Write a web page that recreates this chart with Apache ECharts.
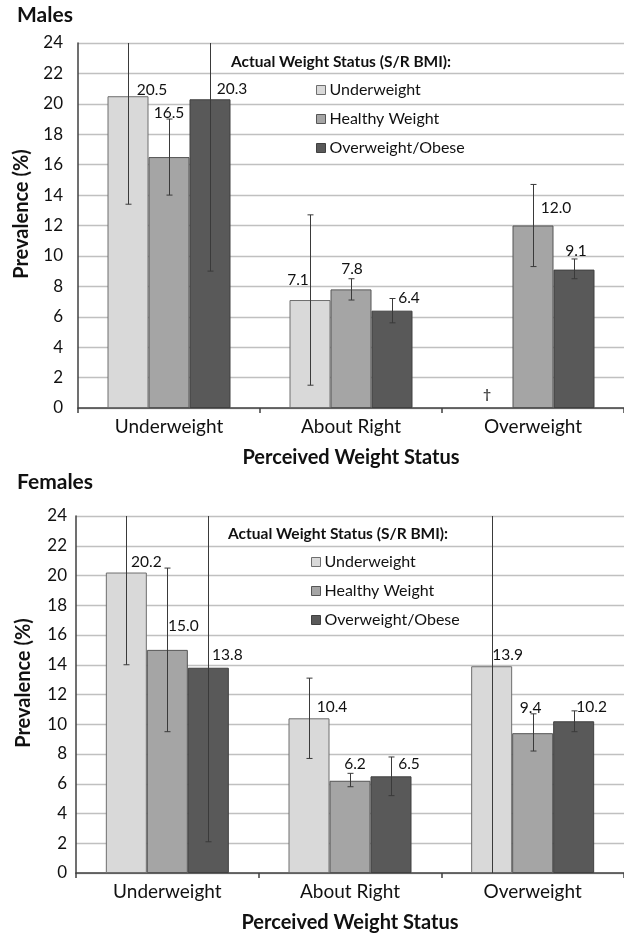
<!DOCTYPE html>
<html>
<head>
<meta charset="utf-8">
<script src="https://cdn.jsdelivr.net/npm/echarts@6/dist/echarts.min.js"></script>
<style>
  html, body { margin: 0; padding: 0; background: #fff; }
  #chart { width: 624px; height: 937px; }
</style>
</head>
<body>
<div id="chart"></div>
<script>
// ---------- data ----------
const categories = ['Underweight', 'About Right', 'Overweight'];
const groups = ['Underweight', 'Healthy Weight', 'Overweight/Obese'];
const yTicks = [0, 24, 2]; // min, max, interval

// Males (null = suppressed, shown as †)
const maleUnder   = [20.5, 7.1, null];
const maleHealthy = [16.5, 7.8, 12.0];
const maleOver    = [20.3, 6.4, 9.1];
// Males 95% CI [low, high]
const maleUnderCI   = [[13.4, 27.6], [1.5, 12.7], null];
const maleHealthyCI = [[14.0, 19.0], [7.1, 8.5], [9.3, 14.7]];
const maleOverCI    = [[9.0, 31.6], [5.6, 7.2], [8.5, 9.8]];

// Females
const femUnder   = [20.2, 10.4, 13.9];
const femHealthy = [15.0, 6.2, 9.4];
const femOver    = [13.8, 6.5, 10.2];
const femUnderCI   = [[14.0, 26.4], [7.7, 13.1], [-0.6, 28.4]];
const femHealthyCI = [[9.5, 20.5], [5.8, 6.7], [8.2, 10.7]];
const femOverCI    = [[2.1, 25.5], [5.2, 7.8], [9.5, 10.9]];

// ---------- label placement (styling) ----------
const maleUnderOff   = [[24, 2], [-12, -12], null];
const maleHealthyOff = [[0, -36], [1, -12], [23, -10]];
const maleOverOff    = [[22, -2], [17, -5], [2, -11]];
const femUnderOff    = [[20, -3], [23, -3], [16, -3]];
const femHealthyOff  = [[16, -16], [5, -9], [-2, -17]];
const femOverOff     = [[19, -5], [18, -4], [18, -6]];

const COLORS = ['#d9d9d9', '#a5a5a5', '#595959'];
const BORDERS = ['#6e6e6e', '#555555', '#404040'];
const BAR_W = 41;
const FONT = 'Lato';
const TXT = '#111111';

function barSeries(gi, g, vals, offs) {
  return {
    type: 'bar', name: groups[g], xAxisIndex: gi, yAxisIndex: gi,
    barWidth: BAR_W, barGap: '0%',
    itemStyle: { color: COLORS[g], borderColor: BORDERS[g], borderWidth: 1 },
    label: {
      show: true, position: 'top', distance: 0, fontFamily: FONT, fontSize: 15.5, color: TXT,
      formatter: p => (p.value == null ? '' : Number(p.value).toFixed(1))
    },
    data: vals.map((v, i) => v == null ? null : ({ value: v, label: { offset: offs[i] || [0, 0] } })),
    z: 2
  };
}

function errSeries(gi, g, ci) {
  return {
    type: 'custom', xAxisIndex: gi, yAxisIndex: gi, z: 6, silent: true,
    data: ci.map((c, i) => c ? [i, c[0], c[1]] : null).filter(Boolean),
    renderItem(params, api) {
      const cs = params.coordSys;
      const x = api.value(0);
      const lo = api.coord([x, api.value(1)]);
      const hi = api.coord([x, api.value(2)]);
      const cx = Math.round(lo[0] + (g - 1) * BAR_W) + 0.5;
      const top = cs.y, bot = cs.y + cs.height;
      const yHi = Math.max(hi[1], top), yLo = Math.min(lo[1], bot);
      const st = { stroke: '#3a3a3a', lineWidth: 1 };
      const ch = [{ type: 'line', shape: { x1: cx, y1: yLo, x2: cx, y2: yHi }, style: st }];
      if (hi[1] >= top) ch.push({ type: 'line', shape: { x1: cx - 3, y1: yHi, x2: cx + 3, y2: yHi }, style: st });
      if (lo[1] <= bot) ch.push({ type: 'line', shape: { x1: cx - 3, y1: yLo, x2: cx + 3, y2: yLo }, style: st });
      return { type: 'group', children: ch };
    }
  };
}

function daggerSeries(gi, g, vals) {
  return {
    type: 'scatter', xAxisIndex: gi, yAxisIndex: gi, symbolSize: 0, silent: true,
    data: vals.map((v, i) => v == null ? [i, 0] : null).filter(Boolean),
    label: { show: true, position: 'top', distance: 0, formatter: '\u2020', fontFamily: FONT,
             fontSize: 14, fontWeight: 'bold', color: TXT, offset: [(g - 1) * BAR_W - 5, -7] },
    z: 7
  };
}

function xAxis(gi) {
  return {
    type: 'category', gridIndex: gi, data: categories,
    name: 'Perceived Weight Status', nameLocation: 'middle', nameGap: 40,
    nameTextStyle: { fontFamily: FONT, fontSize: 20, fontWeight: 'bold', color: TXT },
    axisLine: { lineStyle: { color: '#404040', width: 1.5 } },
    axisTick: { show: true, length: 5, lineStyle: { color: '#404040', width: 1.5 } },
    axisLabel: { fontFamily: FONT, fontSize: 19, color: TXT, margin: 9 },
    splitLine: { show: false }
  };
}
function yAxis(gi, margin, nameGap) {
  return {
    type: 'value', gridIndex: gi, min: yTicks[0], max: yTicks[1], interval: yTicks[2],
    name: 'Prevalence (%)', nameLocation: 'middle', nameGap: nameGap,
    nameTextStyle: { fontFamily: FONT, fontSize: 20, fontWeight: 'bold', color: TXT, padding: [0, 0, 0, 23] },
    axisLine: { show: true, lineStyle: { color: '#404040', width: 1.5 } },
    axisTick: { show: false },
    axisLabel: { fontFamily: FONT, fontSize: 17, color: TXT, margin: margin },
    splitLine: { show: true, lineStyle: { color: '#c0c0c0', width: 1.3 } }
  };
}
function legend(left, top) {
  return {
    orient: 'vertical', left: left, top: top, padding: 0, data: groups,
    icon: 'rect', itemWidth: 9, itemHeight: 9, itemGap: 13,
    itemStyle: { borderWidth: 1 },
    textStyle: { fontFamily: FONT, fontSize: 16, lineHeight: 16, color: TXT, padding: [0, 0, 0, -1] },
    selectedMode: false
  };
}
const titleStyle = { fontFamily: FONT, fontWeight: 'bold', color: TXT };

const chart = echarts.init(document.getElementById('chart'), null, { renderer: 'canvas' });
chart.setOption({
  animation: false,
  backgroundColor: '#ffffff',
  textStyle: { fontFamily: FONT },
  title: [
    { text: 'Males', left: 17, top: 5, padding: 0, textStyle: Object.assign({ fontSize: 21 }, titleStyle) },
    { text: 'Actual Weight Status (S/R BMI):', left: 231, top: 54, padding: 0, textStyle: Object.assign({ fontSize: 15.5 }, titleStyle) },
    { text: 'Females', left: 17, top: 472, padding: 0, textStyle: Object.assign({ fontSize: 21 }, titleStyle) },
    { text: 'Actual Weight Status (S/R BMI):', left: 228, top: 526, padding: 0, textStyle: Object.assign({ fontSize: 15.5 }, titleStyle) }
  ],
  legend: [legend(316, 82), legend(311, 554)],
  grid: [
    { left: 78, top: 43, width: 552, height: 365 },
    { left: 76, top: 516, width: 553, height: 357 }
  ],
  xAxis: [xAxis(0), xAxis(1)],
  yAxis: [yAxis(0, 15, 46), yAxis(1, 9, 42)],
  series: [
    barSeries(0, 0, maleUnder, maleUnderOff),
    barSeries(0, 1, maleHealthy, maleHealthyOff),
    barSeries(0, 2, maleOver, maleOverOff),
    barSeries(1, 0, femUnder, femUnderOff),
    barSeries(1, 1, femHealthy, femHealthyOff),
    barSeries(1, 2, femOver, femOverOff),
    errSeries(0, 0, maleUnderCI),
    errSeries(0, 1, maleHealthyCI),
    errSeries(0, 2, maleOverCI),
    errSeries(1, 0, femUnderCI),
    errSeries(1, 1, femHealthyCI),
    errSeries(1, 2, femOverCI),
    daggerSeries(0, 0, maleUnder)
  ]
});
</script>
</body>
</html>
